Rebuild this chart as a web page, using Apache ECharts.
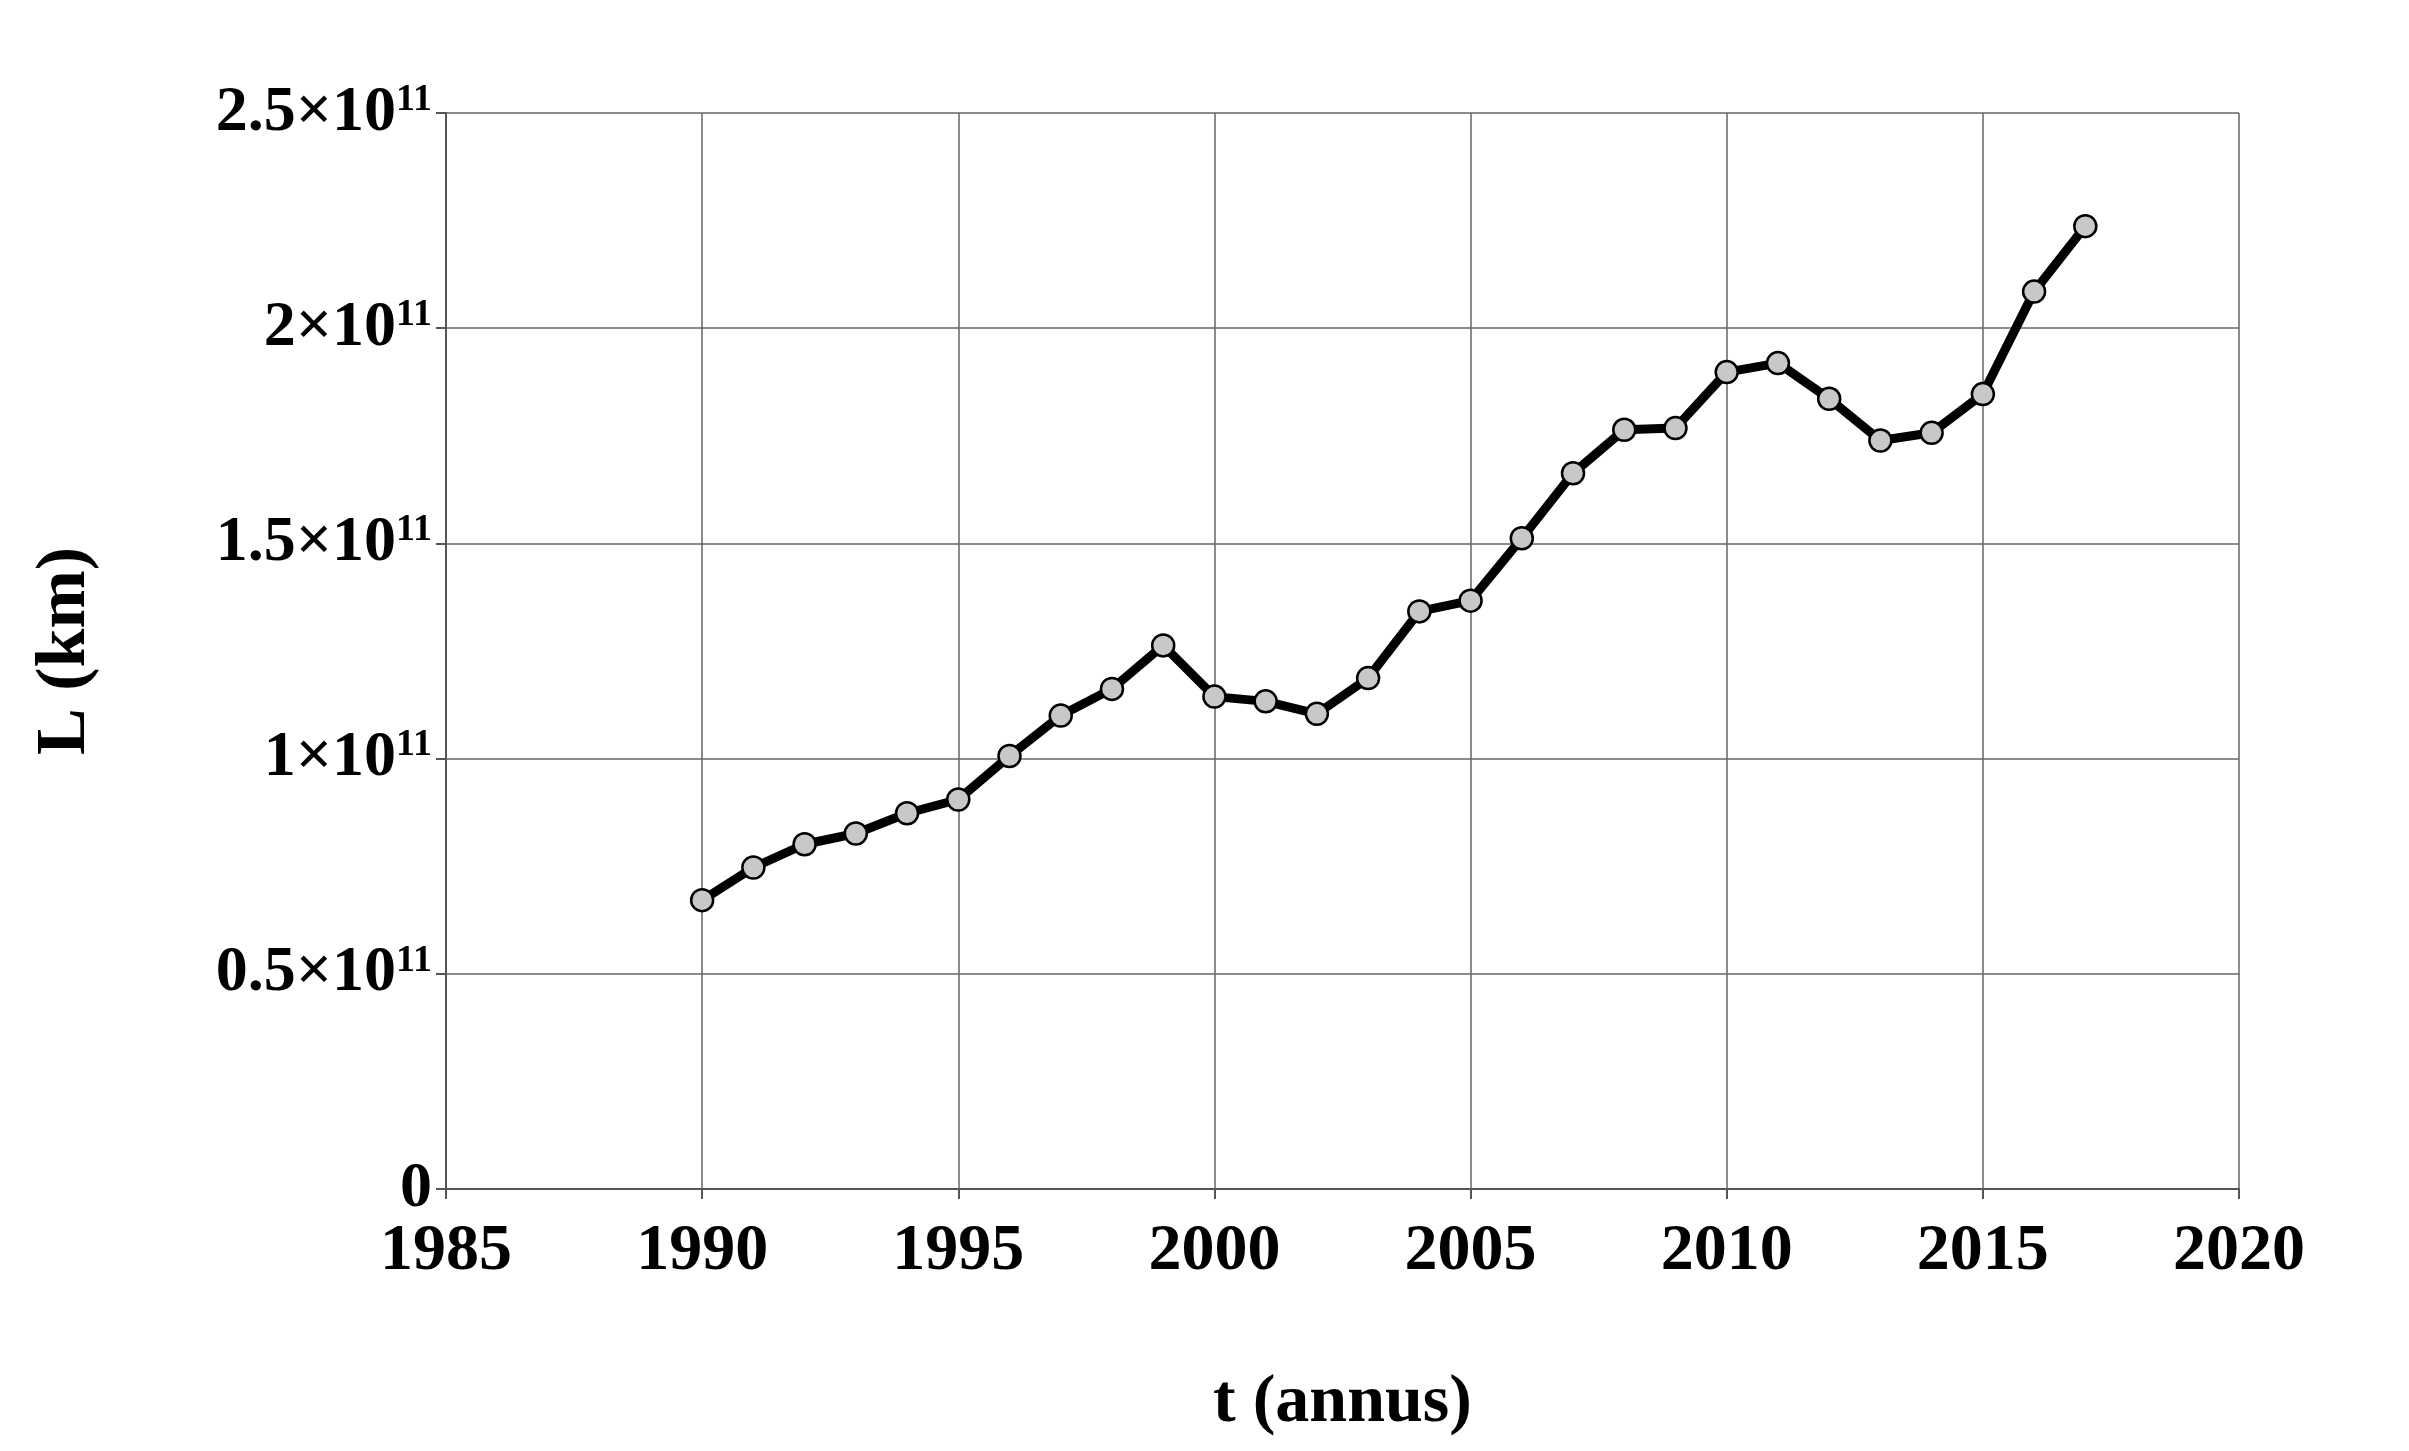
<!DOCTYPE html>
<html><head><meta charset="utf-8">
<script src="https://cdn.jsdelivr.net/npm/echarts@6/dist/echarts.min.js"></script>
<style>html,body{margin:0;background:#fff}#c{width:2409px;height:1451px}</style>
</head><body><div id="c"></div>
<script>
const years=[1990,1991,1992,1993,1994,1995,1996,1997,1998,1999,2000,2001,2002,2003,2004,2005,2006,2007,2008,2009,2010,2011,2012,2013,2014,2015,2016,2017];
const L=[0.671,0.747,0.801,0.826,0.873,0.905,1.006,1.100,1.162,1.263,1.144,1.133,1.104,1.187,1.342,1.367,1.512,1.663,1.764,1.768,1.898,1.919,1.836,1.739,1.757,1.847,2.085,2.237];
const yLabels={0:'0',0.5:'0.5',1:'1',1.5:'1.5',2:'2',2.5:'2.5'};
const F='Liberation Serif';
const ch=echarts.init(document.getElementById('c'));
ch.setOption({
 animation:false,
 grid:{left:446,right:170,top:113,bottom:262},
 xAxis:{type:'value',min:1985,max:2020,interval:5,
  name:'t (annus)',nameLocation:'middle',nameGap:180,
  nameTextStyle:{fontFamily:F,fontWeight:'bold',fontSize:68,color:'#000'},
  axisLine:{lineStyle:{color:'#555',width:2}},
  axisTick:{length:10,lineStyle:{color:'#555',width:2}},
  splitLine:{lineStyle:{color:'#666',width:1.5}},
  axisLabel:{fontFamily:F,fontWeight:'bold',fontSize:66,color:'#000',margin:30,formatter:v=>String(v)}},
 yAxis:{type:'value',min:0,max:2.5,interval:0.5,
  name:'L (km)',nameLocation:'middle',nameGap:345,nameRotate:90,
  nameTextStyle:{fontFamily:F,fontWeight:'bold',fontSize:70,color:'#000'},
  axisLine:{show:true,lineStyle:{color:'#555',width:2}},
  axisTick:{show:true,length:10,lineStyle:{color:'#555',width:2}},
  splitLine:{lineStyle:{color:'#666',width:1.5}},
  axisLabel:{margin:14,formatter:v=>{const k=+v.toFixed(1);return k===0?'{a|0}':'{a|'+yLabels[k]+'×10}{s|11}';},
   rich:{a:{fontFamily:F,fontWeight:'bold',fontSize:64,color:'#000'},
         s:{fontFamily:F,fontWeight:'bold',fontSize:38,color:'#000',verticalAlign:'top',padding:[0,0,26,0]}}}},
 series:[{type:'line',data:years.map((y,i)=>[y,L[i]]),
  lineStyle:{color:'#000',width:9},symbol:'circle',symbolSize:22,
  itemStyle:{color:'#c8c8c8',borderColor:'#000',borderWidth:2.5}}]
});
</script></body></html>
